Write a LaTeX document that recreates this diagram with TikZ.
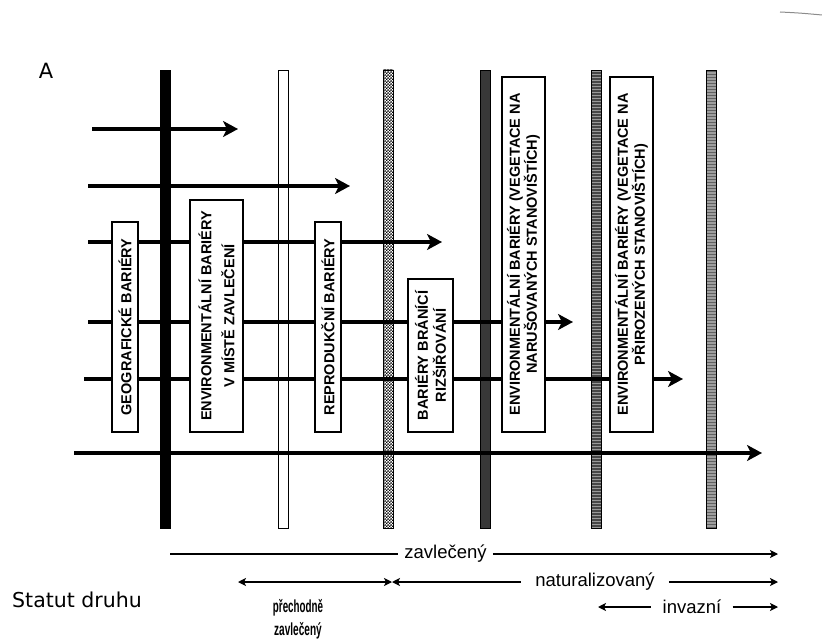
\documentclass[tikz,border=0pt]{standalone}
\usepackage{fontspec}
\setmainfont{Liberation Sans}
\newfontfamily\dvfont{DejaVu Sans}
\usetikzlibrary{arrows.meta,patterns}
\pgfdeclarepatternformonly{finechecker}{\pgfqpoint{0pt}{0pt}}{\pgfqpoint{2.8pt}{2.8pt}}{\pgfqpoint{2.8pt}{2.8pt}}{%
  \pgfpathrectangle{\pgfqpoint{0pt}{0pt}}{\pgfqpoint{1.4pt}{1.4pt}}%
  \pgfpathrectangle{\pgfqpoint{1.4pt}{1.4pt}}{\pgfqpoint{1.4pt}{1.4pt}}%
  \pgfusepath{fill}}
\begin{document}
\begin{tikzpicture}[x=1pt,y=-1pt,
  bar/.style={draw=black, line width=0.8pt, minimum width=10pt, minimum height=458pt, inner sep=0pt, outer sep=0pt},
  barrier/.style={draw=black, line width=1.1pt, fill=white, rotate=90, inner sep=0pt, align=center,
    font=\fontsize{14.5}{15}\selectfont\bfseries},
  flow/.style={line width=4pt, -{Stealth[length=15pt,width=16pt,inset=4pt]}},
  status/.style={line width=1.3pt},
  rhead/.style={status, -{Stealth[length=8pt,width=8pt,inset=2pt]}},
  lhead/.style={status, {Stealth[length=8pt,width=8pt,inset=2pt]}-},
  bhead/.style={status, {Stealth[length=8pt,width=8pt,inset=2pt]}-{Stealth[length=8pt,width=8pt,inset=2pt]}},
  stlabel/.style={font=\fontsize{18.5}{20}\selectfont, inner ysep=0pt}
]
\useasboundingbox (0,0) rectangle (822,639);

% scan artefact top right
\draw[black!45, line width=1pt] (780,12) .. controls (800,13) .. (822,15);

% label A
\node[font=\dvfont\fontsize{21}{22}\selectfont, inner sep=0pt] (lblA) at (46,71) {A};

% vertical barriers
\node[bar, fill=black] (b1) at (165.5,299) {};
\node[bar, fill=white] (b2) at (283,299) {};
\node[bar, preaction={fill=white}, pattern=finechecker, pattern color=black] (b3) at (388,299) {};
\node[bar, fill=black!78] (b4) at (485,299) {};
\node[bar, preaction={fill=black!72}, pattern=horizontal lines, pattern color=black!40] (b5) at (596.5,299) {};
\node[bar, preaction={fill=black!38}, pattern=horizontal lines, pattern color=black!62] (b6) at (711,299) {};

% flow arrows
\coordinate (a1s) at (92,129);  \coordinate (a1e) at (238,129);
\coordinate (a2s) at (88,186);  \coordinate (a2e) at (350,186);
\coordinate (a3s) at (88,242);  \coordinate (a3e) at (442,242);
\coordinate (a4s) at (88,322);  \coordinate (a4e) at (573,322);
\coordinate (a5s) at (84,379);  \coordinate (a5e) at (683,379);
\coordinate (a6s) at (74,453);  \coordinate (a6e) at (762,453);
\draw[flow] (a1s) -- (a1e);
\draw[flow] (a2s) -- (a2e);
\draw[flow] (a3s) -- (a3e);
\draw[flow] (a4s) -- (a4e);
\draw[flow] (a5s) -- (a5e);
\draw[flow] (a6s) -- (a6e);

% barrier boxes
\node[barrier, minimum width=210pt, minimum height=26pt] (geo) at (125,327) {GEOGRAFICKÉ BARIÉRY};
\node[barrier, minimum width=232pt, minimum height=53pt] (env1) at (216.5,316)
  {ENVIRONMENTÁLNÍ BARIÉRY\\[8pt]V MÍSTĚ ZAVLEČENÍ};
\node[barrier, minimum width=210pt, minimum height=26pt] (rep) at (328,327) {REPRODUKČNÍ BARIÉRY};
\node[barrier, minimum width=153pt, minimum height=45pt] (spr) at (430.5,355.5)
  {BARIÉRY BRÁNÍCÍ\\[3pt]RIZŠIŘOVÁNÍ};
\node[barrier, minimum width=355pt, minimum height=43pt, font=\fontsize{14.5}{14}\selectfont\bfseries] (env2) at (523.5,254.5)
  {ENVIRONMENTÁLNÍ BARIÉRY (VEGETACE NA\\NARUŠOVANÝCH STANOVIŠTÍCH)};
\node[barrier, minimum width=355pt, minimum height=43pt, font=\fontsize{14.5}{14}\selectfont\bfseries] (env3) at (631.5,254.5)
  {ENVIRONMENTÁLNÍ BARIÉRY (VEGETACE NA\\PŘIROZENÝCH STANOVIŠTÍCH)};

% species status
\node[font=\dvfont\fontsize{20.5}{22}\selectfont, anchor=base west, inner sep=0pt] (stat) at (12,607) {Statut druhu};

\node[stlabel, inner xsep=6pt] (zav) at (445.5,554) {zavlečený};
\coordinate (z0) at (170,554);
\coordinate (z1) at (778,554);
\draw[status] (z0) -- (zav.west);
\draw[rhead] (zav.east) -- (z1);

\node[stlabel, inner xsep=14pt] (nat) at (595,582) {naturalizovaný};
\coordinate (n0) at (238,582);
\coordinate (n1) at (392,582);
\coordinate (n2) at (778,582);
\draw[bhead] (n0) -- (n1);
\draw[lhead] (n1) -- (nat.west);
\draw[rhead] (nat.east) -- (n2);

\node[stlabel, inner xsep=11pt] (inv) at (692,607) {invazní};
\coordinate (i0) at (598,607);
\coordinate (i1) at (778,607);
\draw[lhead] (i0) -- (inv.west);
\draw[rhead] (inv.east) -- (i1);

\node[align=center, inner sep=0pt, font=\fontsize{14}{23}\selectfont] (cas) at (298,619)
  {\scalebox{0.7}[1.25]{\bfseries přechodně}\\\scalebox{0.72}[1.25]{\bfseries zavlečený}};
\end{tikzpicture}
\end{document}
